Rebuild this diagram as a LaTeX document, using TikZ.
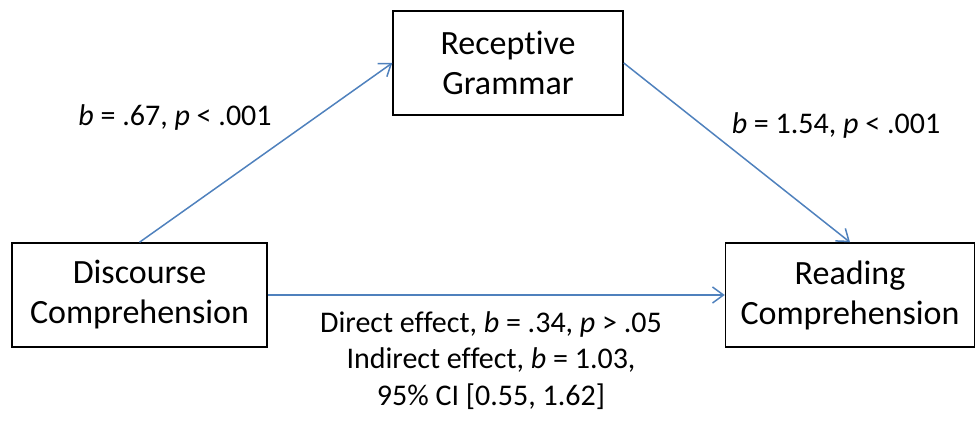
\documentclass[tikz,border=0pt]{standalone}
\usepackage{fontspec}
\setmainfont{Carlito}[Ligatures=NoCommon]
\usetikzlibrary{arrows.meta}
\definecolor{arrowblue}{RGB}{79,129,189}
\begin{document}
\begin{tikzpicture}[x=1pt,y=-1pt,
  box/.style={draw=black,line width=1.5pt,rectangle,inner sep=0pt,align=center,font=\fontsize{34}{40}\selectfont},
  conn/.style={draw=arrowblue,line width=1.5pt,-{Straight Barb[length=11pt,width=16pt,line width=1.5pt]}},
  lbl/.style={inner sep=0pt,font=\fontsize{30}{36.5}\selectfont,align=center}]
\useasboundingbox (0,0) rectangle (976,421);
\node[box,minimum width=230pt,minimum height=104pt] (rg) at (508,63) {Receptive\\Grammar};
\node[box,minimum width=255pt,minimum height=104pt] (dc) at (139.5,295) {Discourse\\Comprehension};
\node[box,minimum width=249pt,minimum height=104pt] (rc) at (850,295) {Reading\\Comprehension};
\draw[conn] (dc.north) -- (rg.west);
\draw[conn] (rg.east) -- (rc.north);
\draw[conn] (dc.east) -- (rc.west);
\node[lbl,anchor=base] (l1) at (175,125) {\textit{b} = .67, \textit{p} < .001};
\node[lbl,anchor=base] (l2) at (836,133) {\textit{b} = 1.54, \textit{p} < .001};
\node[lbl,anchor=north] (l3) at (491,311) {Direct effect, \textit{b} = .34, \textit{p} > .05\\Indirect effect, \textit{b} = 1.03,\\95\% CI [0.55, 1.62]};
\end{tikzpicture}
\end{document}
